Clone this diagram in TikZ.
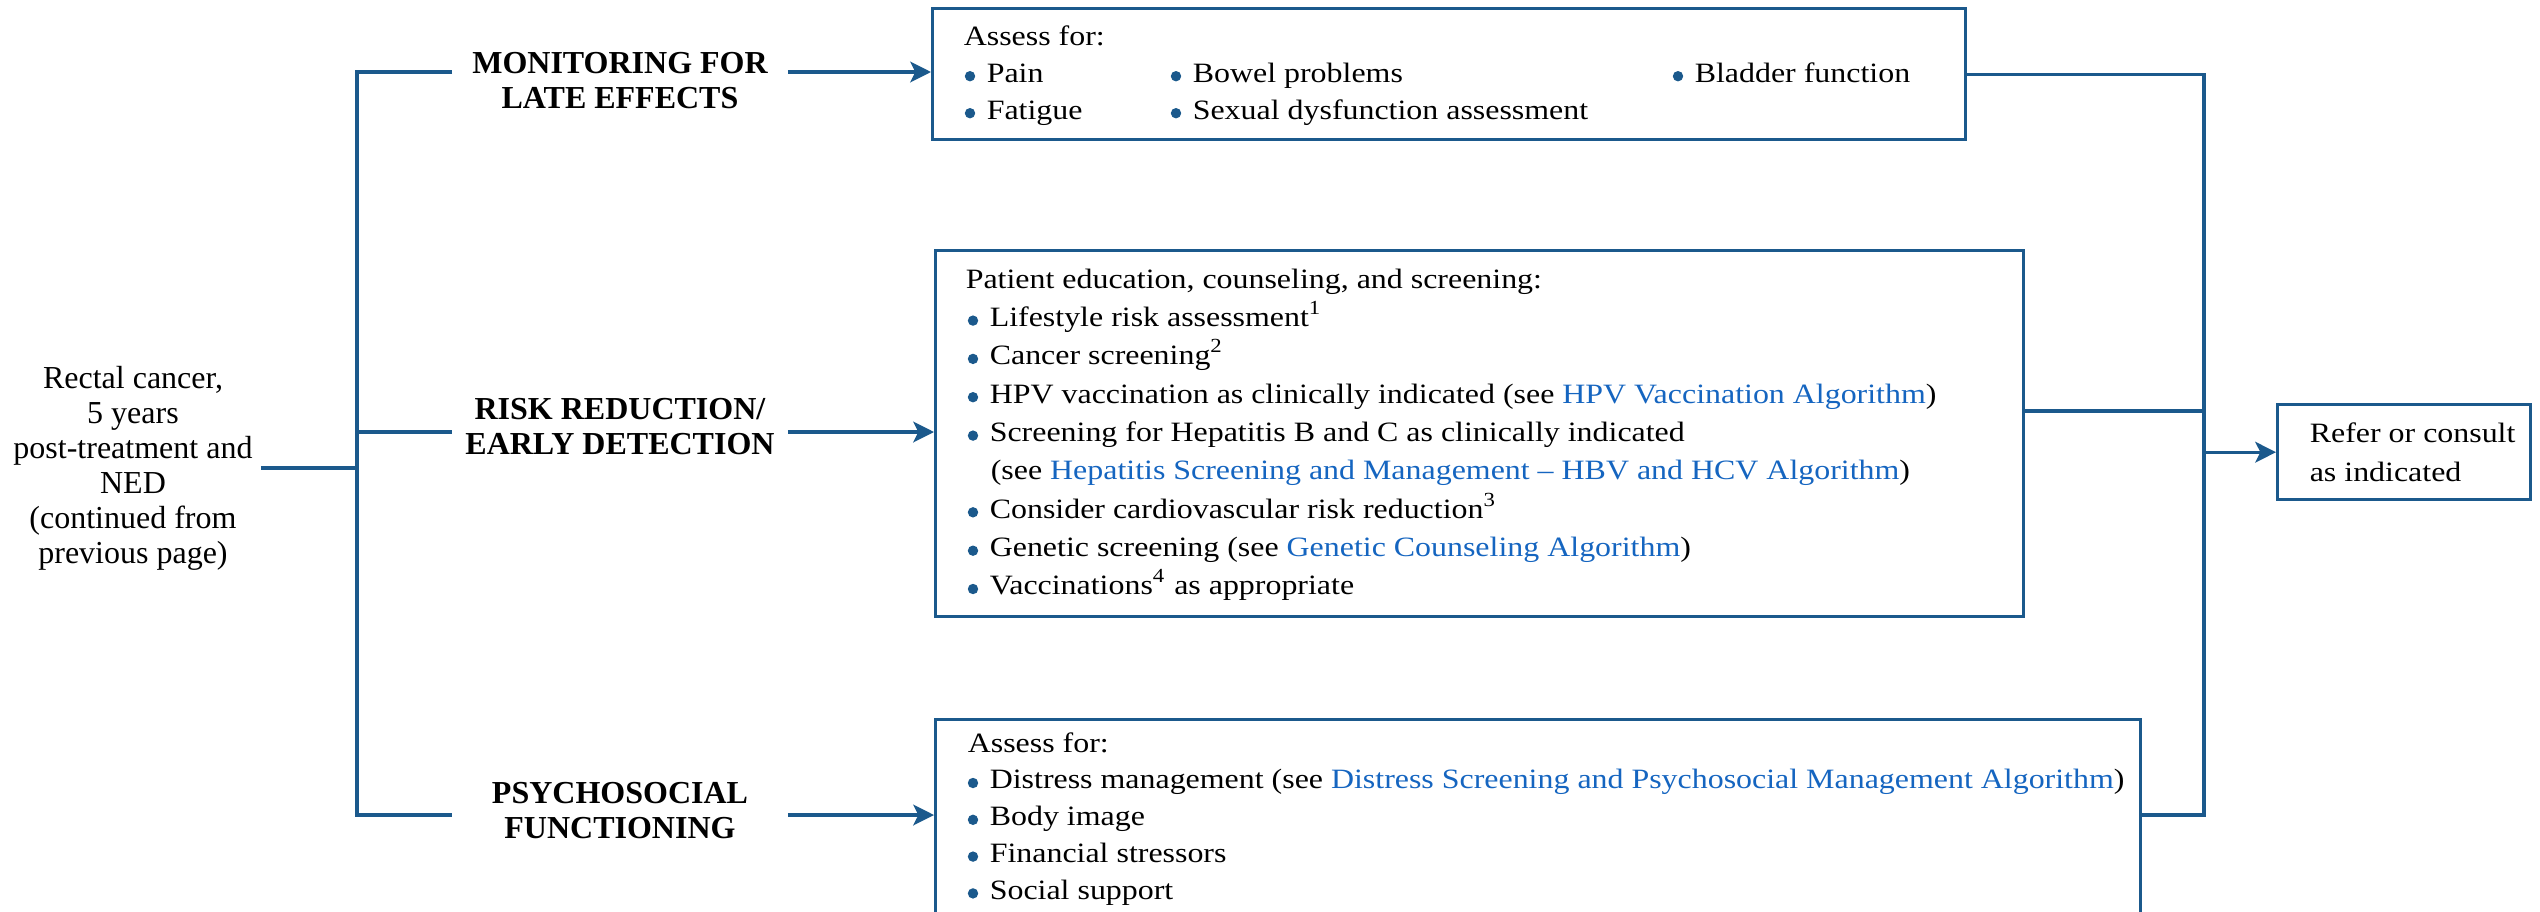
\documentclass[tikz,border=0pt]{standalone}
\usepackage{fontspec}
\setmainfont{Liberation Serif}
\newfontfamily\bodyfont{Liberation Serif}[FakeStretch=1.14, Ligatures=TeX]
\usetikzlibrary{arrows.meta}
\definecolor{nccn}{RGB}{27,89,140}
\definecolor{nccnlink}{RGB}{21,101,192}
% round blue bullet sitting on the baseline
\newcommand\bl{\tikz[baseline=-0.2pt]\fill[nccn] (0pt,1.25pt) circle[radius=1.3pt];\hspace{2.9pt}}
\newcommand\linktxt[1]{\textcolor{nccnlink}{#1}}
\tikzset{
  conn/.style={draw=nccn, line width=0.8pt},
  arr/.style={conn, -{Stealth[length=5.2pt, width=5.2pt, inset=1.3pt]}},
  box/.style={draw=nccn, line width=0.85pt, rectangle, inner sep=0pt, anchor=north west},
  txt/.style={anchor=base west, inner sep=0pt, font=\bodyfont\fontsize{7}{8.4}\selectfont},
  lab/.style={align=center, inner sep=0pt, minimum width=83.5pt,
    font=\bfseries\fontsize{8}{8.75}\selectfont},
  startnode/.style={align=center, inner xsep=1.9pt, inner ysep=0pt,
    font=\fontsize{8}{8.75}\selectfont}
}
\begin{document}
\begin{tikzpicture}[x=0.25pt, y=-0.25pt]
\clip (0,0) rectangle (2540,911);

% starting condition
\node[startnode] (start) at (133,468)
  {Rectal cancer,\\5 years\\post-treatment and\\NED\\(continued from\\previous page)};

% branch labels
\node[lab] (lab1) at (620,80.5) {MONITORING FOR\\LATE EFFECTS};
\node[lab] (lab2) at (620,427) {RISK REDUCTION/\\EARLY DETECTION};
\node[lab] (lab3) at (620,811) {PSYCHOSOCIAL\\FUNCTIONING};

% content boxes
\node[box, minimum width=258.25pt, minimum height=32.75pt] (b1) at (931,7) {};
\node[box, minimum width=272pt, minimum height=91.5pt] (b2) at (934,249) {};
\node[box, minimum width=301.25pt, minimum height=60.5pt] (b3) at (934,718) {};
\node[box, minimum width=63.25pt, minimum height=23.75pt] (refer) at (2276,403) {};

% monitoring for late effects
\node[txt] (m0) at (963,45) {Assess for:};
\node[txt] (m1) at (964,82) {\bl Pain};
\node[txt] (m2) at (1170,82) {\bl Bowel problems};
\node[txt] (m3) at (1672,82) {\bl Bladder function};
\node[txt] (m4) at (964,119) {\bl Fatigue};
\node[txt] (m5) at (1170,119) {\bl Sexual dysfunction assessment};

% risk reduction / early detection
\node[txt] (r0) at (965,288) {Patient education, counseling, and screening:};
\node[txt] (r1) at (967,326.4) {\bl Lifestyle risk assessment\textsuperscript{1}};
\node[txt] (r2) at (967,364.7) {\bl Cancer screening\textsuperscript{2}};
\node[txt] (r3) at (967,403) {\bl HPV vaccination as clinically indicated (see \linktxt{HPV Vaccination Algorithm})};
\node[txt] (r4) at (967,441.4) {\bl Screening for Hepatitis B and C as clinically indicated};
\node[txt] (r5) at (990,479.8) {(see \linktxt{Hepatitis Screening and Management – HBV and HCV Algorithm})};
\node[txt] (r6) at (967,518.1) {\bl Consider cardiovascular risk reduction\textsuperscript{3}};
\node[txt] (r7) at (967,556.5) {\bl Genetic screening (see \linktxt{Genetic Counseling Algorithm})};
\node[txt] (r8) at (967,594.8) {\bl Vaccinations\textsuperscript{4} as appropriate};

% psychosocial functioning
\node[txt] (p0) at (967,752) {Assess for:};
\node[txt] (p1) at (967,788.8) {\bl Distress management (see \linktxt{Distress Screening and Psychosocial Management Algorithm})};
\node[txt] (p2) at (967,825.6) {\bl Body image};
\node[txt] (p3) at (967,862.4) {\bl Financial stressors};
\node[txt] (p4) at (967,899.2) {\bl Social support};

% outcome
\node[txt] (o1) at (2309,442) {Refer or consult};
\node[txt] (o2) at (2309,481) {as indicated};

% left trunk and branches
\coordinate (j1) at (357,72);
\coordinate (j2) at (357,432);
\coordinate (j3) at (357,815);
\draw[conn] (start.east) -- (start.east -| j1);
\draw[conn] (j1 -| lab1.west) -- (j1) -- (j3) -- (j3 -| lab3.west);
\draw[conn] (j2) -- (j2 -| lab2.west);
\draw[arr] (j1 -| lab1.east) -- (j1 -| b1.west);
\draw[arr] (j2 -| lab2.east) -- (j2 -| b2.west);
\draw[arr] (j3 -| lab3.east) -- (j3 -| b3.west);

% right collector
\coordinate (k2) at (2204,411);
\coordinate (k3) at (2204,815);
\draw[conn] (b1.east) -- (b1.east -| k3) -- (k3) -- (k3 -| b3.east);
\draw[conn] (k2 -| b2.east) -- (k2);
\draw[arr] (refer.west -| k3) -- (refer.west);
\end{tikzpicture}
\end{document}
